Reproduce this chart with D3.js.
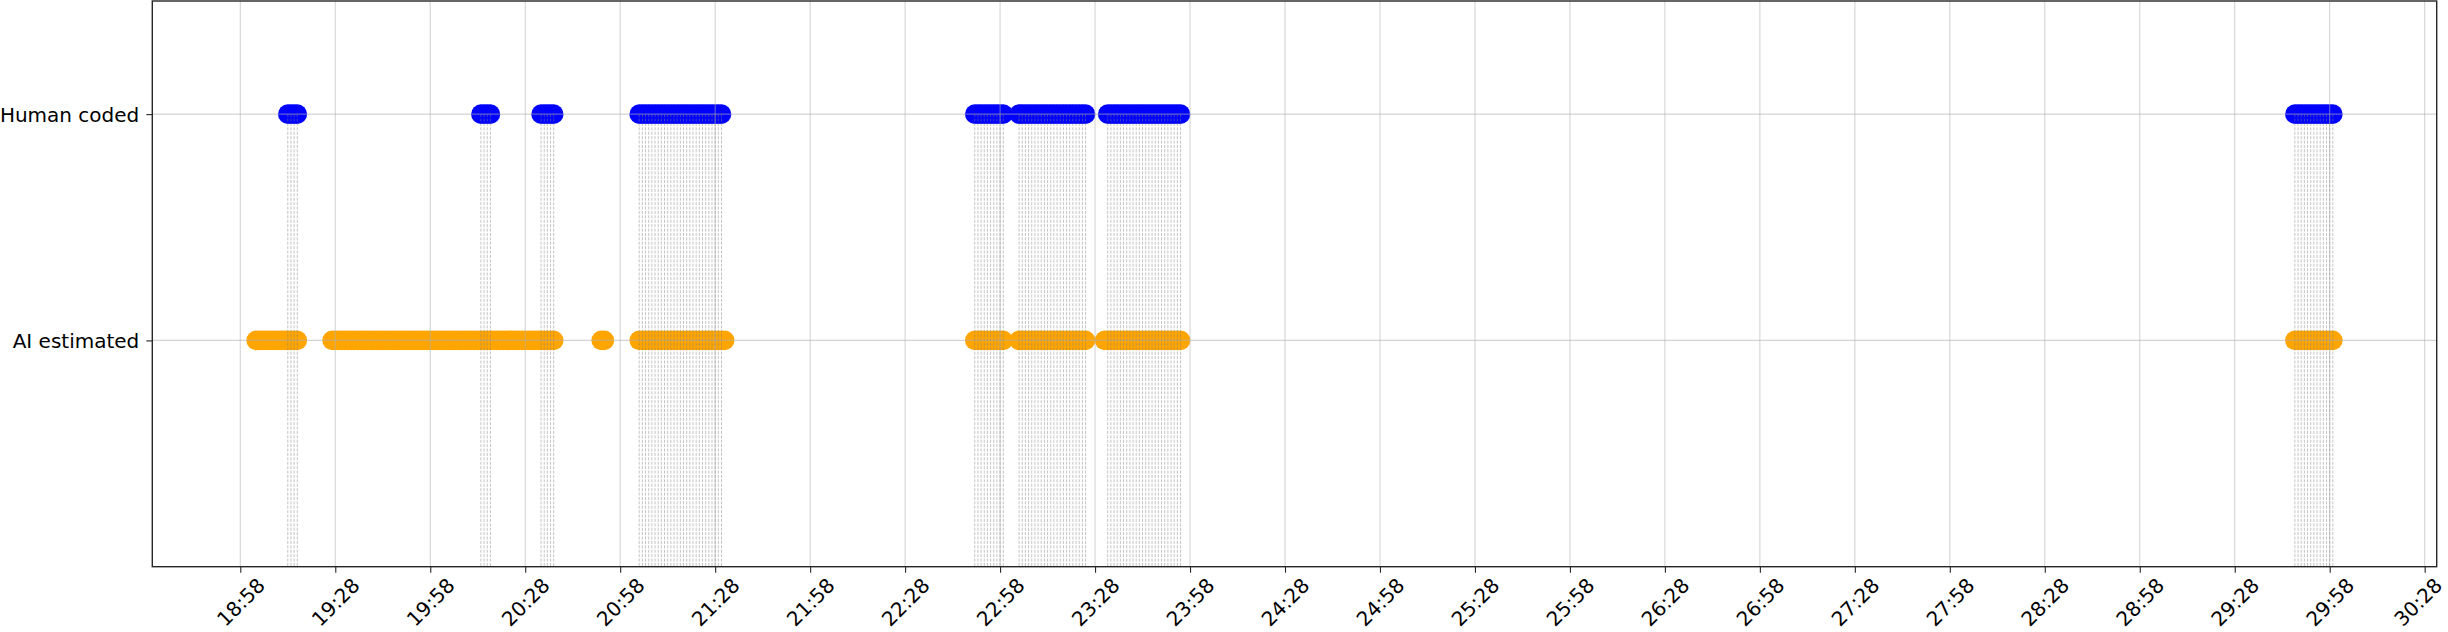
<!DOCTYPE html>
<html><head><meta charset="utf-8">
<script src="https://cdn.jsdelivr.net/npm/d3@7"></script>
<style>html,body{margin:0;padding:0;background:#fff}svg{display:block}</style>
</head><body><svg id="chart" width="2448" height="632"></svg>
<script>
// ---- data (times in seconds, labels mm:ss) ----
const categories = ["AI estimated", "Human coded"];
const tickLabels = ["18:58","19:28","19:58","20:28","20:58","21:28","21:58","22:28","22:58","23:28","23:58","24:28",
  "24:58","25:28","25:58","26:28","26:58","27:28","27:58","28:28","28:58","29:28","29:58","30:28"];
const humanSeconds = [
  1153,1154,1155,1156,
  1214,1215,1216,1217,
  1233,1234,1235,1236,1237,
  1264,1265,1266,1267,1268,1269,1270,1271,1272,1273,1274,1275,1276,1277,1278,1279,1280,1281,1282,1283,1284,1285,1286,1287,1288,1289,1290,
  1370,1371,1372,1373,1374,1375,1376,1377,1378,1379,
  1384,1385,1386,1387,1388,1389,1390,1391,1392,1393,1394,1395,1396,1397,1398,1399,1400,1401,1402,1403,1404,1405,
  1412,1413,1414,1415,1416,1417,1418,1419,1420,1421,1422,1423,1424,1425,1426,1427,1428,1429,1430,1431,1432,1433,1434,1435,
  1787,1788,1789,1790,1791,1792,1793,1794,1795,1796,1797,1798,1799
];
const aiSeconds = [
  1143,1144,1145,1146,1147,1148,1149,1150,1151,1152,1153,1154,1155,1156,
  1167,1168,1169,1170,1171,1172,1173,1174,1175,1176,1177,1178,1179,1180,1181,1182,1183,1184,1185,1186,1187,1188,1189,1190,
  1191,1192,1193,1194,1195,1196,1197,1198,1199,1200,1201,1202,1203,1204,1205,1206,1207,1208,1209,1210,1211,1212,1213,1214,
  1215,1216,1217,1218,1219,1220,1221,1222,1223,1224,1225,1226,1227,1228,1229,1230,1231,1232,1233,1234,1235,1236,1237,
  1252,1253,
  1264,1265,1266,1267,1268,1269,1270,1271,1272,1273,1274,1275,1276,1277,1278,1279,1280,1281,1282,1283,1284,1285,1286,1287,1288,1289,1290,1291,
  1370,1371,1372,1373,1374,1375,1376,1377,1378,1379,
  1384,1385,1386,1387,1388,1389,1390,1391,1392,1393,1394,1395,1396,1397,1398,1399,1400,1401,1402,1403,1404,1405,
  1411,1412,1413,1414,1415,1416,1417,1418,1419,1420,1421,1422,1423,1424,1425,1426,1427,1428,1429,1430,1431,1432,1433,1434,1435,
  1787,1788,1789,1790,1791,1792,1793,1794,1795,1796,1797,1798,1799
];

// ---- layout ----
const W = 2448, H = 632;
const L = 152.3, R = 2436.7, T = 1, B = 566.7;
const toSec = s => { const [m, ss] = s.split(":").map(Number); return m * 60 + ss; };
const tickVals = tickLabels.map(toSec);
const allX = humanSeconds.concat(aiSeconds);
const xmin = d3.min(allX), xmax = d3.max(allX), pad = (xmax - xmin) * 0.05;
const x = d3.scaleLinear().domain([xmin - pad, xmax + pad]).range([L, R]);
const y = d3.scaleLinear().domain([-1, 1.5]).range([B, T]);
const catIndex = c => categories.indexOf(c);

const svg = d3.select("#chart");
svg.append("rect").attr("width", W).attr("height", H).attr("fill", "#fff");

const font = "'DejaVu Sans', sans-serif";
const fs = 20;
const r = 9.8;

// markers
const series = [
  {name: "AI estimated", data: aiSeconds, color: "#ffa500"},
  {name: "Human coded", data: humanSeconds, color: "#0000ff"}
];
series.forEach(s => {
  svg.append("g").selectAll("circle").data(s.data).join("circle")
    .attr("cx", d => x(d)).attr("cy", y(catIndex(s.name))).attr("r", r)
    .attr("fill", s.color);
});

// grid
const grid = svg.append("g").attr("stroke", "#b0b0b0").attr("stroke-opacity", 0.55).attr("stroke-width", 1.1);
grid.selectAll("line.v").data(tickVals).join("line").attr("class", "v")
  .attr("x1", d => x(d)).attr("x2", d => x(d)).attr("y1", T).attr("y2", B);
grid.selectAll("line.h").data(categories).join("line").attr("class", "h")
  .attr("x1", L).attr("x2", R).attr("y1", d => y(catIndex(d))).attr("y2", d => y(catIndex(d)));

// dashed connector lines at human-coded times
svg.append("g").selectAll("line").data(humanSeconds).join("line")
  .attr("x1", d => x(d)).attr("x2", d => x(d))
  .attr("y1", y(catIndex("Human coded"))).attr("y2", y(-1))
  .attr("stroke", "#808080").attr("stroke-opacity", 0.6).attr("stroke-width", 0.8)
  .attr("stroke-dasharray", "3,1.4");

// spines
svg.append("rect").attr("x", L).attr("y", T).attr("width", R - L).attr("height", B - T)
  .attr("fill", "none").attr("stroke", "#262626").attr("stroke-width", 1.4);

// x axis
const xAxis = svg.append("g").attr("transform", `translate(0,${B})`)
  .call(d3.axisBottom(x).tickValues(tickVals).tickFormat((d, i) => tickLabels[i]).tickSize(6).tickSizeOuter(0));
xAxis.select(".domain").remove();
xAxis.selectAll(".tick line").attr("stroke", "#262626").attr("stroke-width", 1.1);
xAxis.selectAll(".tick text")
  .attr("y", 0).attr("dy", null)
  .attr("text-anchor", "middle").attr("dominant-baseline", "central")
  .attr("transform", "translate(0,35.5) rotate(-45)")
  .attr("font-family", font).attr("font-size", fs).attr("fill", "#000")
  .each(function() {
    // keep the label inside the picture
    const bb = this.getBoundingClientRect();
    const shift = Math.min(0, (W - 1) - bb.right);
    if (shift < 0) d3.select(this).attr("transform", `translate(${shift},35.5) rotate(-45)`);
  });

// y axis
const yAxis = svg.append("g").attr("transform", `translate(${L},0)`)
  .call(d3.axisLeft(y).tickValues(categories.map(catIndex)).tickFormat(i => categories[i]).tickSize(6).tickSizeOuter(0));
yAxis.select(".domain").remove();
yAxis.selectAll(".tick line").attr("stroke", "#262626").attr("stroke-width", 1.1);
yAxis.selectAll(".tick text")
  .attr("x", -13).attr("dy", null).attr("dominant-baseline", "central")
  .attr("font-family", font).attr("font-size", fs).attr("fill", "#000");
</script>
</body></html>
